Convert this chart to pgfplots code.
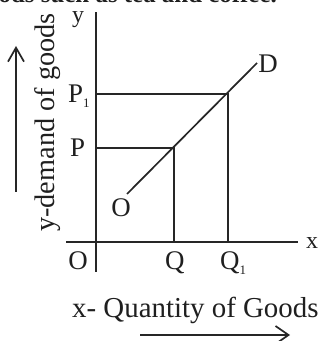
\documentclass[border=0pt]{standalone}
\usepackage{pgfplots}
\pgfplotsset{compat=1.18}
\usepackage{fontspec}
\setmainfont{Liberation Serif}
\usetikzlibrary{arrows.meta}
\tikzset{lbl/.style={inner sep=0pt, font=\fontsize{27}{30}\selectfont, text=black!88},
  ln/.style={line width=1.7bp, draw=black!85, mark=none, solid}}
\begin{document}
\begin{tikzpicture}
\useasboundingbox (0,0) rectangle (321bp,341bp);
\clip (0,0) rectangle (321bp,341bp);
\begin{axis}[
  at={(0,0)}, anchor=south west,
  scale only axis, width=321bp, height=341bp,
  xmin=-96, xmax=225, ymin=-99, ymax=242,
  axis lines=none, clip=false,
]
% axes
\addplot[ln] coordinates {(0,-30) (0,230)};
\addplot[ln] coordinates {(-30,0) (202,0)};
% P1 / Q1 guides
\addplot[ln] coordinates {(0,148) (132,148) (132,0)};
% P / Q guides
\addplot[ln] coordinates {(0,94) (78,94) (78,0)};
% demand curve
\addplot[ln] coordinates {(31,48) (161,179)};
% direction arrows
\addplot[ln, -{Straight Barb[length=14bp,width=16bp,line width=1.7bp]}] coordinates {(-80,50) (-80,196)};
\addplot[ln, -{Straight Barb[length=13bp,width=18bp,line width=1.7bp]}] coordinates {(44,-93) (194,-93)};
% labels
\node[lbl, anchor=base east, font=\fontsize{25}{28}\selectfont\bfseries] at (axis cs:181,239) {goods such as tea and coffee.};
\node[lbl, font=\fontsize{24}{28}\selectfont] at (axis cs:-18,222) {y};
\node[lbl, font=\fontsize{24}{28}\selectfont] at (axis cs:216,-1) {x};
\node[lbl] at (axis cs:172,178) {D};
\node[lbl, anchor=base west] at (axis cs:-28,139) {P\raisebox{-0.18em}{\fontsize{13}{14}\selectfont 1}};
\node[lbl, anchor=base west] at (axis cs:-26,85) {P};
\node[lbl] at (axis cs:25,34) {O};
\node[lbl] at (axis cs:-18,-19) {O};
\node[lbl, anchor=base west] at (axis cs:69,-28) {Q};
\node[lbl, anchor=base west] at (axis cs:124,-28) {Q\raisebox{-0.18em}{\fontsize{13}{14}\selectfont 1}};
\node[lbl, rotate=90, anchor=west, font=\fontsize{28.4}{32}\selectfont] at (axis cs:-48,10) {y-demand of goods};
\node[lbl, anchor=base west, font=\fontsize{29}{32}\selectfont] at (axis cs:-24,-75) {x- Quantity of Goods};
\end{axis}
\end{tikzpicture}
\end{document}
